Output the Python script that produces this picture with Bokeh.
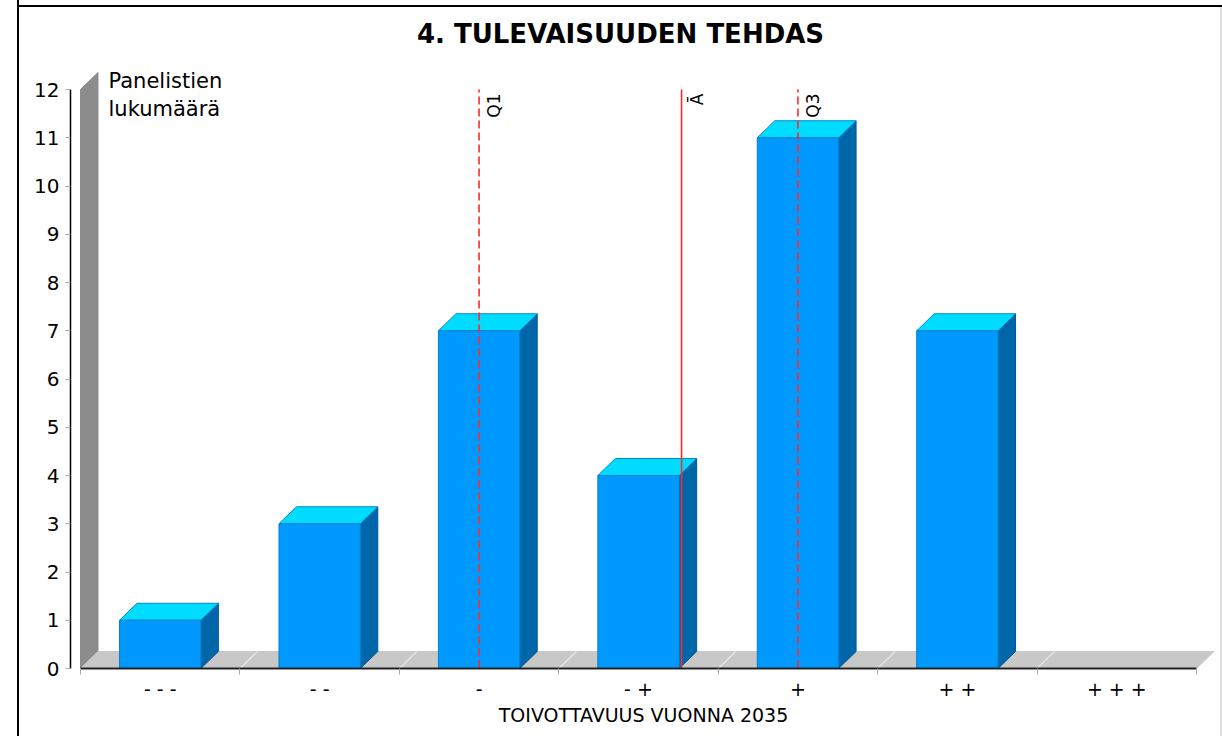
import math
from bokeh.plotting import figure
from bokeh.models import Range1d, FixedTicker, LinearAxis
from bokeh.embed import file_html
from bokeh.resources import INLINE
from bokeh.core.properties import value

# ---------------- data ----------------
chart_title = "4. TULEVAISUUDEN TEHDAS"
categories = ["- - -", "- -", "-", "- +", "+", "+ +", "+ + +"]
counts = [1, 3, 7, 4, 11, 7, 0]
y_ticks = list(range(0, 13))
x_title = "TOIVOTTAVUUS VUONNA 2035"
y_title_lines = ["Panelistien", "lukumäärä"]
marker_names = ["Q1", "Ā", "Q3"]
marker_pos = [3, 4.27, 5]          # on the 1..7 category scale
marker_dash = ["8 4", "solid", "8 4"]

# ---------------- geometry ----------------
PX_X = 159.43   # pixels per category
PX_Y = 48.25    # pixels per unit count
DX = 17.5 / PX_X
DY = 17.0 / PX_Y
BAR_W = 0.51
Y_MAX = 12
N = len(categories)
FONT = "DejaVu Sans"

p = figure(width=1222, height=736, output_backend="svg", toolbar_location=None,
           x_range=Range1d(-10 / PX_X, 1136 / PX_X),
           y_range=Range1d(0, 668 / PX_Y),
           min_border_left=70, min_border_right=6, min_border_top=0,
           min_border_bottom=68, x_axis_type=None, y_axis_type=None)
p.border_fill_color = None
p.background_fill_color = None
p.outline_line_color = None
p.styles = {"box-shadow": "inset 17px 0 0 0 #ffffff, inset 19px 0 0 0 #000000, "
                          "inset 0 5px 0 0 #ffffff, inset 0 7px 0 0 #000000, "
                          "inset -2px 0 0 0 #dddddd"}

# back wall
p.patch([0, 0, DX, DX], [0, Y_MAX, Y_MAX + DY, DY], fill_color="#8c8c8c",
        line_color="#8c8c8c", line_width=1)
# floor
p.patch([0, N, N + DX, DX], [0, 0, DY, DY], fill_color="#c8c8c8",
        line_color="#c8c8c8", line_width=1)
p.segment(x0=list(range(1, N)), y0=[0] * (N - 1),
          x1=[i + DX for i in range(1, N)], y1=[DY] * (N - 1),
          line_color="#e4e4e4", line_width=1.5)

# bars
centers = [i + 0.5 for i in range(N)]
fl, fr, ft = [], [], []
top_xs, top_ys, side_xs, side_ys = [], [], [], []
for c, v in zip(centers, counts):
    if v <= 0:
        continue
    x0, x1 = c - BAR_W / 2, c + BAR_W / 2
    fl.append(x0); fr.append(x1); ft.append(v)
    top_xs.append([x0, x1, x1 + DX, x0 + DX])
    top_ys.append([v, v, v + DY, v + DY])
    side_xs.append([x1, x1 + DX, x1 + DX, x1])
    side_ys.append([0, DY, v + DY, v])

p.patches(side_xs, side_ys, fill_color="#0066aa", line_color="#005a99", line_width=1)
p.patches(top_xs, top_ys, fill_color="#00dcff", line_color="#0088cc", line_width=1)
p.quad(left=fl, right=fr, bottom=[0] * len(fl), top=ft,
       fill_color="#0099ff", line_color="#0080cc", line_width=1)

# markers
for name, pos, dash in zip(marker_names, marker_pos, marker_dash):
    xm = pos - 0.5
    p.segment(x0=[xm], y0=[0], x1=[xm], y1=[Y_MAX], line_color="#ff2a2a",
              line_width=1.6, line_dash=dash)
    p.text(x=[xm], y=[(668 - 93) / PX_Y], text=[name], angle=math.pi / 2,
           x_offset=5, text_align="right", text_baseline="top",
           text_font=value(FONT), text_font_size="17px", text_color="#000000")

# y title (top-left)
p.text(x=[28 / PX_X, 28 / PX_X],
       y=[(668 - 80) / PX_Y, (668 - 108) / PX_Y],
       text=y_title_lines, text_align="left", text_baseline="middle",
       text_font=value(FONT), text_font_size="21px", text_color="#000000")

# chart title
p.text(x=[(620 - 80) / PX_X], y=[(668 - 33) / PX_Y], text=[chart_title],
       text_align="center", text_baseline="middle", text_font=value(FONT),
       text_font_size="26px", text_font_style="bold", text_color="#000000")

# axes
yaxis = LinearAxis(ticker=FixedTicker(ticks=y_ticks, minor_ticks=[]),
                   bounds=(0, Y_MAX))
yaxis.axis_line_color = "#000000"
yaxis.axis_line_width = 1.5
yaxis.major_tick_out = 5
yaxis.major_tick_in = 0
yaxis.major_tick_line_color = "#aaaaaa"
yaxis.minor_tick_out = 0
yaxis.major_label_standoff = 6
yaxis.major_label_text_font = FONT
yaxis.major_label_text_font_size = "20px"
yaxis.major_label_text_color = "#000000"
p.add_layout(yaxis, "left")

tick_pos = [i + 0.5 for i in range(N)]
xaxis = LinearAxis(ticker=FixedTicker(ticks=tick_pos, minor_ticks=list(range(N + 1))),
                   bounds=(0, N))
xaxis.major_label_overrides = {t: c for t, c in zip(tick_pos, categories)}
xaxis.axis_line_color = "#222222"
xaxis.axis_line_width = 2
xaxis.major_tick_out = 0
xaxis.major_tick_in = 0
xaxis.minor_tick_out = 6
xaxis.minor_tick_in = 0
xaxis.minor_tick_line_color = "#aaaaaa"
xaxis.major_label_standoff = 3
xaxis.major_label_text_font = FONT
xaxis.major_label_text_font_size = "19px"
xaxis.major_label_text_color = "#000000"
xaxis.axis_label = x_title
xaxis.axis_label_standoff = 1
xaxis.axis_label_text_font = FONT
xaxis.axis_label_text_font_size = "19px"
xaxis.axis_label_text_font_style = "normal"
xaxis.axis_label_text_color = "#000000"
p.add_layout(xaxis, "below")

open("out.html", "w").write(file_html(p, INLINE))
